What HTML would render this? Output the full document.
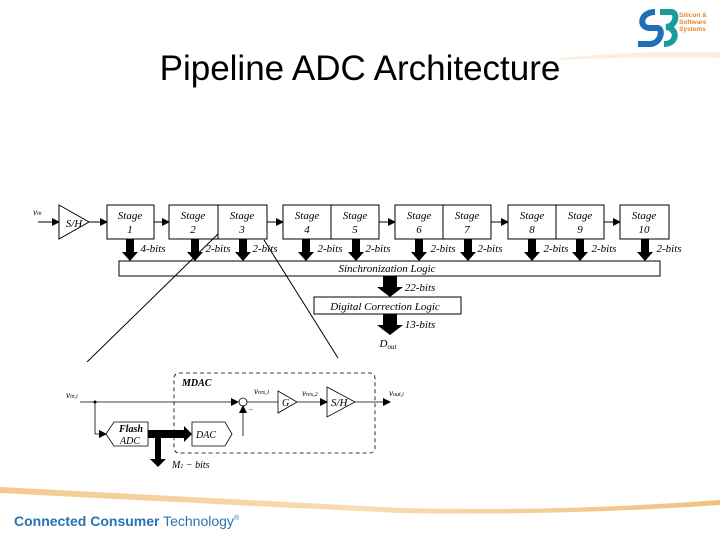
<!DOCTYPE html>
<html><head><meta charset="utf-8"><style>
body{margin:0;width:720px;height:540px;overflow:hidden;background:#fff;font-family:"Liberation Sans",sans-serif}
</style></head><body>
<svg width="720" height="540" xmlns="http://www.w3.org/2000/svg" font-family="Liberation Serif, serif">
<defs>
<marker id="a" markerWidth="8" markerHeight="8" refX="7" refY="4" orient="auto" markerUnits="userSpaceOnUse"><path d="M0,0 L8,4 L0,8z" fill="#000"/></marker>
<linearGradient id="sw" x1="0" x2="1"><stop offset="0" stop-color="#f3c98f"/><stop offset="0.5" stop-color="#f8dcb4"/><stop offset="1" stop-color="#f0c080"/></linearGradient>
</defs>
<!-- logo -->
<path d="M655,12 C640,12 638,28 650,28 L658,28 C664,30 660,44 650,44 L638,44" stroke="#1e6fb3" stroke-width="6" fill="none"/>
<path d="M660,12 L672,12 C678,14 676,26 666,27 C678,28 678,44 664,44" stroke="#1a9c9a" stroke-width="6" fill="none"/>
<text x="679" y="17" font-family="Liberation Sans" font-size="6.5" fill="#e08a30" font-weight="bold">Silicon &amp;</text>
<text x="679" y="24" font-family="Liberation Sans" font-size="6.5" fill="#e08a30" font-weight="bold">Software</text>
<text x="679" y="31" font-family="Liberation Sans" font-size="6.5" fill="#e08a30" font-weight="bold">Systems</text>
<path d="M560,58 Q650,50 720,52 L720,58 Q640,56 560,60z" fill="#fbeee0"/>
<text x="360" y="80" text-anchor="middle" font-family="Liberation Sans" font-size="35">Pipeline ADC Architecture</text>
<g stroke="#000" fill="none" stroke-width="1">
<line x1="38" y1="222" x2="59" y2="222" marker-end="url(#a)"/>
<path d="M59,205 L89,222 L59,239z" fill="#fff"/>
<line x1="89" y1="222" x2="107" y2="222" marker-end="url(#a)"/>
<rect x="107" y="205" width="47" height="34" fill="#fff"/>
<line x1="154" y1="222" x2="169" y2="222" marker-end="url(#a)"/>
<rect x="169" y="205" width="98" height="34" fill="#fff"/><line x1="218" y1="205" x2="218" y2="239"/>
<line x1="267" y1="222" x2="283" y2="222" marker-end="url(#a)"/>
<rect x="283" y="205" width="96" height="34" fill="#fff"/><line x1="331" y1="205" x2="331" y2="239"/>
<line x1="379" y1="222" x2="395" y2="222" marker-end="url(#a)"/>
<rect x="395" y="205" width="96" height="34" fill="#fff"/><line x1="443" y1="205" x2="443" y2="239"/>
<line x1="491" y1="222" x2="508" y2="222" marker-end="url(#a)"/>
<rect x="508" y="205" width="96" height="34" fill="#fff"/><line x1="556" y1="205" x2="556" y2="239"/>
<line x1="604" y1="222" x2="620" y2="222" marker-end="url(#a)"/>
<rect x="620" y="205" width="49" height="34" fill="#fff"/>
<rect x="119" y="261" width="541" height="15"/>
<rect x="314" y="297" width="147" height="17"/>
<line x1="218" y1="234" x2="87" y2="362"/>
<line x1="264" y1="240" x2="338" y2="358"/>
</g>
<g fill="#000">
<path id="da" d="M-4,239 L4,239 L4,252 L8,252 L0,261 L-8,252 L-4,252z" transform="translate(130,0)"/>
<use href="#da" transform="translate(65,0)"/><use href="#da" transform="translate(113,0)"/>
<use href="#da" transform="translate(176,0)"/><use href="#da" transform="translate(226,0)"/>
<use href="#da" transform="translate(289,0)"/><use href="#da" transform="translate(338,0)"/>
<use href="#da" transform="translate(402,0)"/><use href="#da" transform="translate(450,0)"/>
<use href="#da" transform="translate(515,0)"/>
<path d="M383,276 L397,276 L397,287 L403,287 L390,297 L377,287 L383,287z"/>
<path d="M383,314 L397,314 L397,325 L403,325 L390,335 L377,325 L383,325z"/>
</g>
<g font-style="italic" font-size="11" text-anchor="middle">
<text x="130" y="219">Stage</text><text x="130" y="233">1</text>
<text x="193" y="219">Stage</text><text x="193" y="233">2</text>
<text x="242" y="219">Stage</text><text x="242" y="233">3</text>
<text x="307" y="219">Stage</text><text x="307" y="233">4</text>
<text x="355" y="219">Stage</text><text x="355" y="233">5</text>
<text x="419" y="219">Stage</text><text x="419" y="233">6</text>
<text x="467" y="219">Stage</text><text x="467" y="233">7</text>
<text x="532" y="219">Stage</text><text x="532" y="233">8</text>
<text x="580" y="219">Stage</text><text x="580" y="233">9</text>
<text x="644" y="219">Stage</text><text x="644" y="233">10</text>
<text x="74" y="227">S/H</text>
<text x="153" y="252">4-bits</text><text x="218" y="252">2-bits</text><text x="265" y="252">2-bits</text>
<text x="330" y="252">2-bits</text><text x="378" y="252">2-bits</text>
<text x="443" y="252">2-bits</text><text x="490" y="252">2-bits</text>
<text x="556" y="252">2-bits</text><text x="604" y="252">2-bits</text><text x="669" y="252">2-bits</text>
<text x="387" y="272">Sinchronization Logic</text>
<text x="420" y="291">22-bits</text>
<text x="385" y="310">Digital Correction Logic</text>
<text x="420" y="328">13-bits</text>
<text x="388" y="347">D<tspan font-size="7" dy="2">out</tspan></text>
</g>
<text x="33" y="215" font-size="9" font-style="italic">v<tspan font-size="6">in</tspan></text>
<g stroke="#000" fill="none" stroke-width="0.8">
<rect x="174" y="373" width="201" height="80" rx="5" stroke-dasharray="4,3"/>
<line x1="80" y1="402" x2="238" y2="402" marker-end="url(#a)"/>
<circle cx="243" cy="402" r="4"/>
<line x1="247" y1="402" x2="278" y2="402"/>
<path d="M278,391 L297,402 L278,413z"/>
<line x1="297" y1="402" x2="327" y2="402" marker-end="url(#a)"/>
<path d="M327,387 L355,402 L327,417z"/>
<line x1="355" y1="402" x2="390" y2="402" marker-end="url(#a)"/>
<line x1="95" y1="402" x2="95" y2="434"/><line x1="95" y1="434" x2="106" y2="434" marker-end="url(#a)"/>
<path d="M106,434 L114,422 L148,422 L148,446 L114,446z"/>
<path d="M192,422 L225,422 L232,434 L225,446 L192,446z"/>
<line x1="243" y1="436" x2="243" y2="406" marker-end="url(#a)"/>
</g>
<circle cx="95" cy="402" r="1.5"/>
<g fill="#000">
<path d="M148,430 L184,430 L184,426 L192,434 L184,442 L184,438 L148,438z"/>
<path d="M155,438 L161,438 L161,459 L166,459 L158,467 L150,459 L155,459z"/>
</g>
<g font-family="Liberation Serif" font-size="9" font-style="italic">
<text x="66" y="398">v<tspan font-size="6">in,i</tspan></text>
<text x="182" y="386" font-weight="bold" font-size="10">MDAC</text>
<text x="254" y="394">v<tspan font-size="6">res,1</tspan></text>
<text x="302" y="396">v<tspan font-size="6">res,2</tspan></text>
<text x="389" y="396">v<tspan font-size="6">out,i</tspan></text>
<text x="282" y="406" font-size="10">G</text>
<text x="331" y="406" font-size="11">S/H</text>
<text x="119" y="432" font-size="10" font-weight="bold">Flash</text>
<text x="120" y="444" font-size="10">ADC</text>
<text x="196" y="438" font-size="10">DAC</text>
<text x="172" y="468" font-size="10">M<tspan font-size="6">1</tspan> − bits</text>
<text x="248" y="412" font-size="8">−</text>
</g>
<path d="M0,487 Q250,500 400,508 Q560,512 720,500 L720,505 Q560,516 400,513 Q250,506 0,493z" fill="url(#sw)"/>
<text x="14" y="526" font-family="Liberation Sans" font-size="14" fill="#2a72b0"><tspan font-weight="bold">Connected Consumer</tspan> Technology<tspan font-size="7" dy="-6">®</tspan></text>
</svg>
</body></html>
